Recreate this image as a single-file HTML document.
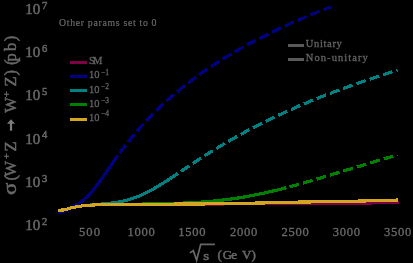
<!DOCTYPE html>
<html><head><meta charset="utf-8">
<style>
html,body{margin:0;padding:0;background:#000;width:413px;height:263px;overflow:hidden}
svg{display:block;will-change:transform}
text{font-family:"Liberation Serif",serif;fill:#686868;stroke:#686868;stroke-width:0.5}
.xl text{fill:#6a6a6a;stroke:#6a6a6a;stroke-width:0.3}
.sm text{fill:#636363;stroke:#636363;stroke-width:0.3}
text.sm2{stroke-width:0.2}
.c{fill:none;stroke-width:3.2;stroke-linejoin:round;stroke-linecap:butt;shape-rendering:crispEdges}
.d{stroke-dasharray:10 4.05;stroke-dashoffset:11.05}
</style></head><body>
<svg width="413" height="263" viewBox="0 0 413 263">
<rect width="413" height="263" fill="#000"/>
<g font-size="15">
<text x="25.3" y="14">10</text><text x="42" y="8.7" font-size="10.5">7</text>
<text x="25.3" y="57.3">10</text><text x="42" y="52" font-size="10.5">6</text>
<text x="25.3" y="100.2">10</text><text x="42" y="95.2" font-size="10.5">5</text>
<text x="25.3" y="143.5">10</text><text x="42" y="138.2" font-size="10.5">4</text>
<text x="25.3" y="187">10</text><text x="42" y="181.7" font-size="10.5">3</text>
<text x="25.3" y="230">10</text><text x="42" y="224.7" font-size="10.5">2</text>
</g>
<g class="xl" font-size="12.6" text-anchor="middle">
<text x="89.5" y="236" textLength="21" lengthAdjust="spacing">500</text>
<text x="141.2" y="236" textLength="27.3" lengthAdjust="spacing">1000</text>
<text x="191.9" y="236" textLength="27.3" lengthAdjust="spacing">1500</text>
<text x="243.6" y="236" textLength="27.3" lengthAdjust="spacing">2000</text>
<text x="295.2" y="236" textLength="27.3" lengthAdjust="spacing">2500</text>
<text x="346.4" y="236" textLength="27.3" lengthAdjust="spacing">3000</text>
<text x="397.6" y="236" textLength="27.3" lengthAdjust="spacing">3500</text>
</g>
<g font-size="13">
<path d="M189.9,252.9 L193.3,250.6 L196.6,260.2 L200.7,244.3 L214.9,244.3" fill="none" stroke="#686868" stroke-width="1.7" stroke-linejoin="miter"/>
<text x="203.3" y="259.6" font-size="13.5" textLength="6" lengthAdjust="spacingAndGlyphs">s</text>
<text y="258.6"><tspan x="217.6">(</tspan><tspan x="222.8">G</tspan><tspan x="231.3">e</tspan><tspan x="242">V</tspan><tspan x="251.6">)</tspan></text>
</g>
<g font-size="16.5" transform="translate(15.8,0) rotate(-90)">
<text x="-194.9" y="0.3" font-size="18.5" textLength="12.4" lengthAdjust="spacingAndGlyphs">σ</text>
<text x="-180.5" y="0">(</text>
<text x="-176.5" y="0">W</text>
<text x="-159" y="-6" font-size="10">+</text>
<text x="-151.5" y="0">Z</text>
<text x="-112.7" y="0">W</text>
<text x="-97" y="-6" font-size="10">+</text>
<text x="-86.5" y="0">Z</text>
<text x="-75.5" y="0">)</text>
<text x="-65" y="0">(</text>
<text x="-61.5" y="0">p</text>
<text x="-51" y="0">b</text>
<text x="-41.3" y="0">)</text>
</g>
<path d="M11,119.2 L15,123.8 L12.1,123.8 L12.1,130.8 L9.9,130.8 L9.9,123.8 L7,123.8 Z" fill="#7c7c7c"/>
<text class="sm2" x="59" y="26.3" font-size="9.8" textLength="97.5" lengthAdjust="spacing">Other params set to 0</text>
<g stroke-width="3">
<line x1="70" y1="62.5" x2="87" y2="62.5" stroke="#800045"/>
<line x1="70" y1="76.5" x2="87" y2="76.5" stroke="#000080"/>
<line x1="70" y1="90.5" x2="87" y2="90.5" stroke="#008080"/>
<line x1="70" y1="104.5" x2="87" y2="104.5" stroke="#008000"/>
<line x1="70" y1="119.5" x2="87" y2="119.5" stroke="#d4a520"/>
<line x1="288" y1="45.5" x2="304" y2="45.5" stroke="#595959"/>
<line x1="288" y1="59.5" x2="304" y2="59.5" stroke="#595959"/>
</g>
<g class="sm" font-size="10.5">
<text x="89" y="63.7" textLength="13.3" lengthAdjust="spacing">SM</text>
<text x="89" y="78">10</text><text x="101" y="74.5" font-size="7.5">−1</text>
<text x="89" y="92.9">10</text><text x="101" y="89.2" font-size="7.5">−2</text>
<text x="89" y="106.8">10</text><text x="101" y="102.8" font-size="7.5">−3</text>
<text x="89" y="121">10</text><text x="101" y="116.3" font-size="7.5">−4</text>
<text x="305.8" y="47.2" textLength="36" lengthAdjust="spacing">Unitary</text>
<text x="305.8" y="61" textLength="62" lengthAdjust="spacing">Non-unitary</text>
</g>
<path d="M58.10,210.20 59.10,210.16 60.11,210.13 61.11,210.09 62.11,210.05 63.11,210.02 64.12,209.86 65.12,209.57 66.12,209.29 67.12,209.01 68.13,208.73 69.13,208.45 70.13,208.17 71.13,207.88 72.14,207.60 73.14,207.39 74.14,207.23 75.15,207.06 76.15,206.90 77.15,206.73 78.15,206.57 79.16,206.40 80.16,206.23 81.16,206.07 82.16,205.90 83.17,205.74 84.17,205.59 85.17,205.53 86.17,205.47 87.18,205.40 88.18,205.34 89.18,205.28 90.18,205.22 91.19,205.16 92.19,205.10 93.19,205.03 94.20,204.97 95.20,204.91 96.20,204.85 97.20,204.79 98.21,204.72 99.21,204.69 100.21,204.66 101.21,204.64 102.22,204.61 103.22,204.59 104.22,204.56 105.22,204.54 106.23,204.51 107.23,204.49 108.23,204.47 109.24,204.44 110.24,204.42 111.24,204.39 112.24,204.37 113.25,204.34 114.25,204.32 115.25,204.30 116.25,204.30 117.26,204.29 118.26,204.29 119.26,204.29 120.26,204.28 121.27,204.28 122.27,204.28 123.27,204.28 124.27,204.27 125.28,204.27 126.28,204.27 127.28,204.26 128.29,204.26 129.29,204.26 130.29,204.26 131.29,204.25 132.30,204.25 133.30,204.25 134.30,204.24 135.30,204.24 136.31,204.24 137.31,204.24 138.31,204.23 139.31,204.23 140.32,204.23 141.32,204.22 142.32,204.22 143.33,204.22 144.33,204.22 145.33,204.21 146.33,204.21 147.34,204.21 148.34,204.20 149.34,204.20 150.34,204.20 151.35,204.19 152.35,204.19 153.35,204.19 154.35,204.18 155.36,204.18 156.36,204.17 157.36,204.17 158.36,204.17 159.37,204.16 160.37,204.16 161.37,204.15 162.38,204.15 163.38,204.15 164.38,204.14 165.38,204.14 166.39,204.13 167.39,204.13 168.39,204.13 169.39,204.12 170.40,204.12 171.40,204.11 172.40,204.11 173.40,204.11 174.41,204.10 175.41,204.10 176.41,204.09 177.42,204.09 178.42,204.09 179.42,204.08 180.42,204.08 181.43,204.07 182.43,204.07 183.43,204.07 184.43,204.06 185.44,204.06 186.44,204.05 187.44,204.05 188.44,204.05 189.45,204.04 190.45,204.04 191.45,204.03 192.45,204.03 193.46,204.03 194.46,204.02 195.46,204.02 196.47,204.01 197.47,204.01 198.47,204.01 199.47,204.00 200.48,204.00 201.48,203.99 202.48,203.99 203.48,203.99 204.49,203.98 205.49,203.98 206.49,203.97 207.49,203.97 208.50,203.97 209.50,203.96 210.50,203.96 211.51,203.95 212.51,203.95 213.51,203.95 214.51,203.94 215.52,203.94 216.52,203.93 217.52,203.93 218.52,203.93 219.53,203.92 220.53,203.92 221.53,203.91 222.53,203.91 223.54,203.91 224.54,203.90 225.54,203.90 226.54,203.89 227.55,203.89 228.55,203.89 229.55,203.88 230.56,203.88 231.56,203.87 232.56,203.87 233.56,203.87 234.57,203.86 235.57,203.86 236.57,203.85 237.57,203.85 238.58,203.85 239.58,203.84 240.58,203.84 241.58,203.83 242.59,203.83 243.59,203.83 244.59,203.82 245.60,203.82 246.60,203.81 247.60,203.81 248.60,203.81 249.61,203.80 250.61,203.80 251.61,203.79 252.61,203.79 253.62,203.79 254.62,203.78 255.62,203.78 256.62,203.77 257.63,203.77 258.63,203.77 259.63,203.76 260.63,203.76 261.64,203.75 262.64,203.75 263.64,203.75 264.65,203.74 265.65,203.74 266.65,203.73 267.65,203.73 268.66,203.73 269.66,203.72 270.66,203.72 271.66,203.71 272.67,203.71 273.67,203.71 274.67,203.70 275.67,203.70 276.68,203.69 277.68,203.69 278.68,203.69 279.69,203.68 280.69,203.68 281.69,203.67 282.69,203.67 283.70,203.67 284.70,203.66 285.70,203.66 286.70,203.65 287.71,203.65 288.71,203.65 289.71,203.64 290.71,203.64 291.72,203.63 292.72,203.63 293.72,203.63 294.72,203.62 295.73,203.62 296.73,203.61 297.73,203.61 298.74,203.61 299.74,203.60 300.74,203.60 301.74,203.59 302.75,203.58 303.75,203.58 304.75,203.57 305.75,203.57 306.76,203.56 307.76,203.55 308.76,203.55 309.76,203.54 310.77,203.54 311.77,203.53 312.77,203.52 313.77,203.52 314.78,203.51 315.78,203.51 316.78,203.50 317.79,203.49 318.79,203.49 319.79,203.48 320.79,203.48 321.80,203.47 322.80,203.46 323.80,203.46 324.80,203.45 325.81,203.45 326.81,203.44 327.81,203.43 328.81,203.43 329.82,203.42 330.82,203.42 331.82,203.41 332.83,203.40 333.83,203.40 334.83,203.39 335.83,203.39 336.84,203.38 337.84,203.37 338.84,203.37 339.84,203.36 340.85,203.35 341.85,203.35 342.85,203.34 343.85,203.34 344.86,203.33 345.86,203.32 346.86,203.32 347.87,203.31 348.87,203.31 349.87,203.30 350.87,203.28 351.88,203.27 352.88,203.25 353.88,203.23 354.88,203.21 355.89,203.19 356.89,203.18 357.89,203.16 358.89,203.14 359.90,203.12 360.90,203.10 361.90,203.09 362.90,203.07 363.91,203.05 364.91,203.03 365.91,203.01 366.92,203.00 367.92,202.98 368.92,202.96 369.92,202.94 370.93,202.92 371.93,202.91 372.93,202.89 373.93,202.87 374.94,202.85 375.94,202.83 376.94,202.82 377.94,202.80 378.95,202.78 379.95,202.76 380.95,202.74 381.95,202.72 382.96,202.71 383.96,202.69 384.96,202.67 385.97,202.65 386.97,202.63 387.97,202.62 388.97,202.60 389.98,202.58 390.98,202.56 391.98,202.54 392.98,202.53 393.99,202.51 394.99,202.49 395.99,202.47 396.99,202.45 398.00,202.44 399.00,202.42" stroke="#800045" class="c"/>
<path d="M58.10,210.20 59.11,210.16 60.11,210.13 61.12,210.09 62.13,210.05 63.13,210.02 64.14,209.85 65.15,209.56 66.15,209.28 67.16,209.00 68.17,208.71 69.17,208.43 70.18,208.14 71.19,207.86 72.19,207.57 73.20,207.37 74.21,207.20 75.21,207.03 76.22,206.86 77.23,206.69 78.23,206.52 79.24,206.35 80.25,206.18 81.25,206.00 82.26,205.83 83.27,205.66 84.27,205.51 85.28,205.43 86.29,205.36 87.29,205.28 88.30,205.21 89.31,205.13 90.32,205.05 91.32,204.97 92.33,204.88 93.34,204.79 94.34,204.70 95.35,204.61 96.36,204.52 97.36,204.42 98.37,204.32 99.38,204.24 100.38,204.17 101.39,204.09 102.40,204.01 103.40,203.93 104.41,203.84 105.42,203.75 106.42,203.65 107.43,203.54 108.44,203.43 109.44,203.31 110.45,203.19 111.46,203.06 112.46,202.92 113.47,202.77 114.48,202.62 115.48,202.47 116.49,202.31 117.50,202.15 118.50,201.98 119.51,201.80 120.52,201.61 121.52,201.41 122.53,201.20 123.54,200.98 124.54,200.75 125.55,200.51 126.56,200.25 127.56,199.98 128.57,199.70 129.58,199.41 130.58,199.10 131.59,198.79 132.60,198.46 133.60,198.12 134.61,197.76 135.62,197.39 136.62,197.01 137.63,196.62 138.64,196.21 139.64,195.80 140.65,195.37 141.66,194.92 142.66,194.47 143.67,194.00 144.68,193.53 145.68,193.04 146.69,192.54 147.70,192.03 148.71,191.51 149.71,190.98 150.72,190.44 151.73,189.88 152.73,189.33 153.74,188.76 154.75,188.18 155.75,187.60 156.76,187.00 157.77,186.40 158.77,185.80 159.78,185.19 160.79,184.57 161.79,183.94 162.80,183.31 163.81,182.68 164.81,182.04 165.82,181.39 166.83,180.75 167.83,180.09 168.84,179.44 169.85,178.78 170.85,178.12 171.86,177.46 172.87,176.79 173.87,176.12 174.88,175.46 175.89,174.79 176.89,174.11 177.90,173.44" stroke="#008080" class="c"/>
<path d="M177.90,173.44 178.40,173.11 178.90,172.77 179.40,172.44 179.90,172.10 180.40,171.77 180.90,171.43 181.40,171.10 181.90,170.76 182.40,170.43 182.90,170.09 183.41,169.76 183.91,169.42 184.41,169.09 184.91,168.75 185.41,168.42 185.91,168.08 186.41,167.75 186.91,167.41 187.41,167.08 187.91,166.75 188.41,166.41 188.91,166.08 189.41,165.75 189.91,165.41 190.41,165.08 190.91,164.75 191.41,164.42 191.91,164.09 192.41,163.75 192.91,163.42 193.41,163.09 193.91,162.76 194.42,162.43 194.92,162.10 195.42,161.77 195.92,161.45 196.42,161.12 196.92,160.79 197.42,160.46 197.92,160.14 198.42,159.81 198.92,159.49 199.42,159.16 199.92,158.84 200.42,158.51 200.92,158.19 201.42,157.86 201.92,157.54 202.42,157.22 202.92,156.90 203.42,156.58 203.92,156.26 204.42,155.94 204.92,155.62 205.43,155.30 205.93,154.98 206.43,154.66 206.93,154.34 207.43,154.03 207.93,153.71 208.43,153.40 208.93,153.08 209.43,152.77 209.93,152.45 210.43,152.14 210.93,151.83 211.43,151.52 211.93,151.20 212.43,150.89 212.93,150.58 213.43,150.27 213.93,149.97 214.43,149.66 214.93,149.35 215.43,149.04 215.93,148.74 216.44,148.43 216.94,148.13 217.44,147.82 217.94,147.52 218.44,147.21 218.94,146.91 219.44,146.61 219.94,146.31 220.44,146.01 220.94,145.71 221.44,145.41 221.94,145.11 222.44,144.81 222.94,144.51 223.44,144.22 223.94,143.92 224.44,143.62 224.94,143.33 225.44,143.03 225.94,142.74 226.44,142.45 226.94,142.16 227.45,141.86 227.95,141.57 228.45,141.28 228.95,140.99 229.45,140.70 229.95,140.41 230.45,140.13 230.95,139.84 231.45,139.55 231.95,139.27 232.45,138.98 232.95,138.70 233.45,138.41 233.95,138.13 234.45,137.84 234.95,137.56 235.45,137.28 235.95,137.00 236.45,136.72 236.95,136.44 237.45,136.16 237.95,135.88 238.46,135.60 238.96,135.33 239.46,135.05 239.96,134.77 240.46,134.50 240.96,134.22 241.46,133.95 241.96,133.67 242.46,133.40 242.96,133.13 243.46,132.86 243.96,132.58 244.46,132.31 244.96,132.04 245.46,131.77 245.96,131.51 246.46,131.24 246.96,130.97 247.46,130.70 247.96,130.44 248.46,130.17 248.96,129.90 249.47,129.64 249.97,129.37 250.47,129.11 250.97,128.85 251.47,128.59 251.97,128.32 252.47,128.06 252.97,127.80 253.47,127.54 253.97,127.28 254.47,127.02 254.97,126.76 255.47,126.51 255.97,126.25 256.47,125.99 256.97,125.73 257.47,125.48 257.97,125.22 258.47,124.97 258.97,124.71 259.47,124.46 259.97,124.21 260.48,123.96 260.98,123.70 261.48,123.45 261.98,123.20 262.48,122.95 262.98,122.70 263.48,122.45 263.98,122.20 264.48,121.96 264.98,121.71 265.48,121.46 265.98,121.21 266.48,120.97 266.98,120.72 267.48,120.48 267.98,120.23 268.48,119.99 268.98,119.75 269.48,119.50 269.98,119.26 270.48,119.02 270.98,118.78 271.49,118.54 271.99,118.30 272.49,118.06 272.99,117.82 273.49,117.58 273.99,117.34 274.49,117.10 274.99,116.86 275.49,116.63 275.99,116.39 276.49,116.16 276.99,115.92 277.49,115.68 277.99,115.45 278.49,115.22 278.99,114.98 279.49,114.75 279.99,114.52 280.49,114.29 280.99,114.05 281.49,113.82 281.99,113.59 282.50,113.36 283.00,113.13 283.50,112.90 284.00,112.67 284.50,112.45 285.00,112.22 285.50,111.99 286.00,111.76 286.50,111.54 287.00,111.31 287.50,111.09 288.00,110.86 288.50,110.64 289.00,110.41 289.50,110.19 290.00,109.96 290.50,109.74 291.00,109.52 291.50,109.30 292.00,109.08 292.50,108.85 293.00,108.63 293.51,108.41 294.01,108.19 294.51,107.97 295.01,107.76 295.51,107.54 296.01,107.32 296.51,107.10 297.01,106.88 297.51,106.67 298.01,106.45 298.51,106.24 299.01,106.02 299.51,105.80 300.01,105.59 300.51,105.38 301.01,105.16 301.51,104.95 302.01,104.74 302.51,104.52 303.01,104.31 303.51,104.10 304.01,103.89 304.52,103.68 305.02,103.47 305.52,103.26 306.02,103.05 306.52,102.84 307.02,102.63 307.52,102.42 308.02,102.21 308.52,102.00 309.02,101.79 309.52,101.59 310.02,101.38 310.52,101.17 311.02,100.97 311.52,100.76 312.02,100.56 312.52,100.35 313.02,100.15 313.52,99.95 314.02,99.74 314.52,99.54 315.02,99.34 315.53,99.13 316.03,98.93 316.53,98.73 317.03,98.53 317.53,98.33 318.03,98.13 318.53,97.93 319.03,97.73 319.53,97.53 320.03,97.33 320.53,97.13 321.03,96.93 321.53,96.73 322.03,96.53 322.53,96.34 323.03,96.14 323.53,95.94 324.03,95.75 324.53,95.55 325.03,95.36 325.53,95.16 326.03,94.96 326.54,94.77 327.04,94.58 327.54,94.38 328.04,94.19 328.54,94.00 329.04,93.80 329.54,93.61 330.04,93.42 330.54,93.23 331.04,93.03 331.54,92.84 332.04,92.65 332.54,92.46 333.04,92.27 333.54,92.08 334.04,91.89 334.54,91.70 335.04,91.51 335.54,91.33 336.04,91.14 336.54,90.95 337.04,90.76 337.55,90.58 338.05,90.39 338.55,90.20 339.05,90.02 339.55,89.83 340.05,89.64 340.55,89.46 341.05,89.27 341.55,89.09 342.05,88.90 342.55,88.72 343.05,88.54 343.55,88.35 344.05,88.17 344.55,87.99 345.05,87.81 345.55,87.62 346.05,87.44 346.55,87.26 347.05,87.08 347.55,86.90 348.05,86.72 348.56,86.54 349.06,86.36 349.56,86.18 350.06,86.00 350.56,85.82 351.06,85.64 351.56,85.46 352.06,85.28 352.56,85.10 353.06,84.93 353.56,84.75 354.06,84.57 354.56,84.39 355.06,84.22 355.56,84.04 356.06,83.87 356.56,83.69 357.06,83.51 357.56,83.34 358.06,83.16 358.56,82.99 359.06,82.82 359.57,82.64 360.07,82.47 360.57,82.29 361.07,82.12 361.57,81.95 362.07,81.78 362.57,81.60 363.07,81.43 363.57,81.26 364.07,81.09 364.57,80.92 365.07,80.75 365.57,80.58 366.07,80.41 366.57,80.24 367.07,80.07 367.57,79.90 368.07,79.73 368.57,79.56 369.07,79.39 369.57,79.22 370.07,79.05 370.58,78.88 371.08,78.72 371.58,78.55 372.08,78.38 372.58,78.21 373.08,78.05 373.58,77.88 374.08,77.71 374.58,77.55 375.08,77.38 375.58,77.22 376.08,77.05 376.58,76.89 377.08,76.72 377.58,76.56 378.08,76.39 378.58,76.23 379.08,76.07 379.58,75.90 380.08,75.74 380.58,75.58 381.08,75.41 381.59,75.25 382.09,75.09 382.59,74.93 383.09,74.77 383.59,74.60 384.09,74.44 384.59,74.28 385.09,74.12 385.59,73.96 386.09,73.80 386.59,73.64 387.09,73.48 387.59,73.32 388.09,73.16 388.59,73.00 389.09,72.84 389.59,72.69 390.09,72.53 390.59,72.37 391.09,72.21 391.59,72.05 392.09,71.90 392.60,71.74 393.10,71.58 393.60,71.43 394.10,71.27 394.60,71.11 395.10,70.96 395.60,70.80 396.10,70.65 396.60,70.49 397.10,70.33 397.60,70.18" stroke="#008080" class="c d" style="stroke-dashoffset:10.4"/>
<path d="M58.10,210.20 59.10,210.16 60.10,210.13 61.11,210.09 62.11,210.05 63.11,210.02 64.11,209.86 65.11,209.58 66.11,209.29 67.12,209.01 68.12,208.73 69.12,208.45 70.12,208.17 71.12,207.89 72.12,207.61 73.13,207.40 74.13,207.23 75.13,207.07 76.13,206.90 77.13,206.73 78.14,206.57 79.14,206.40 80.14,206.24 81.14,206.07 82.14,205.91 83.14,205.74 84.15,205.59 85.15,205.53 86.15,205.47 87.15,205.40 88.15,205.34 89.15,205.28 90.16,205.22 91.16,205.16 92.16,205.09 93.16,205.03 94.16,204.97 95.16,204.91 96.17,204.85 97.17,204.78 98.17,204.72 99.17,204.68 100.17,204.66 101.18,204.63 102.18,204.61 103.18,204.58 104.18,204.56 105.18,204.53 106.18,204.51 107.19,204.48 108.19,204.46 109.19,204.43 110.19,204.40 111.19,204.38 112.19,204.35 113.20,204.33 114.20,204.30 115.20,204.28 116.20,204.28 117.20,204.27 118.21,204.27 119.21,204.26 120.21,204.26 121.21,204.25 122.21,204.25 123.21,204.24 124.22,204.24 125.22,204.23 126.22,204.22 127.22,204.22 128.22,204.21 129.22,204.21 130.23,204.20 131.23,204.19 132.23,204.18 133.23,204.18 134.23,204.17 135.24,204.16 136.24,204.15 137.24,204.15 138.24,204.14 139.24,204.13 140.24,204.12 141.25,204.11 142.25,204.10 143.25,204.09 144.25,204.08 145.25,204.07 146.25,204.05 147.26,204.04 148.26,204.03 149.26,204.02 150.26,204.00 151.26,203.99 152.26,203.97 153.27,203.95 154.27,203.94 155.27,203.92 156.27,203.90 157.27,203.88 158.28,203.87 159.28,203.85 160.28,203.82 161.28,203.80 162.28,203.78 163.28,203.76 164.29,203.74 165.29,203.71 166.29,203.69 167.29,203.66 168.29,203.63 169.29,203.61 170.30,203.58 171.30,203.55 172.30,203.52 173.30,203.49 174.30,203.45 175.31,203.42 176.31,203.39 177.31,203.35 178.31,203.31 179.31,203.28 180.31,203.24 181.32,203.20 182.32,203.16 183.32,203.11 184.32,203.07 185.32,203.02 186.32,202.98 187.33,202.93 188.33,202.88 189.33,202.83 190.33,202.78 191.33,202.72 192.34,202.67 193.34,202.61 194.34,202.55 195.34,202.49 196.34,202.43 197.34,202.36 198.35,202.30 199.35,202.23 200.35,202.16 201.35,202.09 202.35,202.02 203.35,201.94 204.36,201.87 205.36,201.79 206.36,201.71 207.36,201.62 208.36,201.54 209.36,201.45 210.37,201.36 211.37,201.27 212.37,201.18 213.37,201.08 214.37,200.99 215.38,200.89 216.38,200.79 217.38,200.68 218.38,200.57 219.38,200.47 220.38,200.35 221.39,200.24 222.39,200.13 223.39,200.01 224.39,199.89 225.39,199.76 226.39,199.64 227.40,199.51 228.40,199.38 229.40,199.24 230.40,199.11 231.40,198.97 232.41,198.83 233.41,198.69 234.41,198.54 235.41,198.39 236.41,198.24 237.41,198.09 238.42,197.93 239.42,197.77 240.42,197.61 241.42,197.45 242.42,197.28 243.42,197.11 244.43,196.94 245.43,196.77 246.43,196.59 247.43,196.41 248.43,196.23 249.44,196.04 250.44,195.86 251.44,195.67 252.44,195.48 253.44,195.28 254.44,195.08 255.45,194.89 256.45,194.68 257.45,194.48 258.45,194.27 259.45,194.06 260.45,193.85 261.46,193.64 262.46,193.42 263.46,193.20 264.46,192.98 265.46,192.76 266.46,192.53 267.47,192.31 268.47,192.08 269.47,191.85 270.47,191.61 271.47,191.38 272.48,191.14 273.48,190.90 274.48,190.66 275.48,190.41 276.48,190.17 277.48,189.92 278.49,189.67 279.49,189.42 280.49,189.17 281.49,188.91 282.49,188.65 283.49,188.40 284.50,188.14 285.50,187.87 286.50,187.61" stroke="#008000" class="c"/>
<path d="M286.50,187.61 287.00,187.48 287.50,187.35 288.00,187.21 288.50,187.08 289.00,186.95 289.50,186.81 290.00,186.68 290.50,186.54 291.00,186.41 291.50,186.27 292.00,186.14 292.51,186.00 293.01,185.86 293.51,185.73 294.01,185.59 294.51,185.45 295.01,185.31 295.51,185.18 296.01,185.04 296.51,184.90 297.01,184.76 297.51,184.62 298.01,184.48 298.51,184.34 299.01,184.20 299.51,184.06 300.01,183.92 300.51,183.78 301.01,183.64 301.51,183.50 302.01,183.35 302.51,183.21 303.01,183.07 303.52,182.93 304.02,182.78 304.52,182.64 305.02,182.50 305.52,182.35 306.02,182.21 306.52,182.06 307.02,181.92 307.52,181.77 308.02,181.63 308.52,181.48 309.02,181.34 309.52,181.19 310.02,181.05 310.52,180.90 311.02,180.76 311.52,180.61 312.02,180.46 312.52,180.32 313.02,180.17 313.52,180.02 314.02,179.88 314.53,179.73 315.03,179.58 315.53,179.43 316.03,179.28 316.53,179.14 317.03,178.99 317.53,178.84 318.03,178.69 318.53,178.54 319.03,178.40 319.53,178.25 320.03,178.10 320.53,177.95 321.03,177.80 321.53,177.65 322.03,177.50 322.53,177.35 323.03,177.20 323.53,177.05 324.03,176.90 324.53,176.75 325.03,176.60 325.54,176.45 326.04,176.30 326.54,176.15 327.04,176.00 327.54,175.85 328.04,175.70 328.54,175.55 329.04,175.40 329.54,175.25 330.04,175.10 330.54,174.95 331.04,174.80 331.54,174.65 332.04,174.50 332.54,174.35 333.04,174.19 333.54,174.04 334.04,173.89 334.54,173.74 335.04,173.59 335.54,173.44 336.04,173.29 336.55,173.14 337.05,172.98 337.55,172.83 338.05,172.68 338.55,172.53 339.05,172.38 339.55,172.23 340.05,172.08 340.55,171.92 341.05,171.77 341.55,171.62 342.05,171.47 342.55,171.32 343.05,171.17 343.55,171.02 344.05,170.86 344.55,170.71 345.05,170.56 345.55,170.41 346.05,170.26 346.55,170.11 347.05,169.96 347.55,169.80 348.06,169.65 348.56,169.50 349.06,169.35 349.56,169.20 350.06,169.05 350.56,168.90 351.06,168.74 351.56,168.59 352.06,168.44 352.56,168.29 353.06,168.14 353.56,167.98 354.06,167.83 354.56,167.68 355.06,167.53 355.56,167.38 356.06,167.22 356.56,167.07 357.06,166.92 357.56,166.77 358.06,166.62 358.56,166.47 359.07,166.32 359.57,166.16 360.07,166.01 360.57,165.86 361.07,165.71 361.57,165.56 362.07,165.41 362.57,165.26 363.07,165.11 363.57,164.96 364.07,164.81 364.57,164.66 365.07,164.51 365.57,164.36 366.07,164.21 366.57,164.06 367.07,163.91 367.57,163.76 368.07,163.61 368.57,163.46 369.07,163.31 369.57,163.16 370.08,163.01 370.58,162.86 371.08,162.71 371.58,162.56 372.08,162.41 372.58,162.26 373.08,162.11 373.58,161.96 374.08,161.82 374.58,161.67 375.08,161.52 375.58,161.37 376.08,161.22 376.58,161.07 377.08,160.92 377.58,160.78 378.08,160.63 378.58,160.48 379.08,160.33 379.58,160.19 380.08,160.04 380.58,159.89 381.09,159.74 381.59,159.60 382.09,159.45 382.59,159.30 383.09,159.16 383.59,159.01 384.09,158.86 384.59,158.72 385.09,158.57 385.59,158.42 386.09,158.28 386.59,158.13 387.09,157.98 387.59,157.84 388.09,157.69 388.59,157.55 389.09,157.40 389.59,157.26 390.09,157.11 390.59,156.97 391.09,156.82 391.59,156.68 392.10,156.53 392.60,156.39 393.10,156.24 393.60,156.10 394.10,155.95 394.60,155.81 395.10,155.67 395.60,155.52 396.10,155.38 396.60,155.23 397.10,155.09 397.60,154.95" stroke="#008000" class="c d"/>
<path d="M58.10,212.35 59.11,212.17 60.12,211.99 61.14,211.81 62.15,211.61 63.16,211.41 64.17,211.06 65.18,210.60 66.19,210.12 67.21,209.63 68.22,209.12 69.23,208.59 70.24,208.04 71.25,207.48 72.27,206.88 73.28,206.35 74.29,205.80 75.30,205.23 76.31,204.65 77.33,204.12 78.34,203.55 79.35,202.93 80.36,202.26 81.37,201.55 82.38,200.79 83.40,199.98 84.41,199.14 85.42,198.30 86.43,197.40 87.44,196.45 88.46,195.44 89.47,194.38 90.48,193.28 91.49,192.12 92.50,190.92 93.52,189.69 94.53,188.41 95.54,187.10 96.55,185.76 97.56,184.40 98.57,183.01 99.59,181.62 100.60,180.20 101.61,178.78 102.62,177.34 103.63,175.89 104.65,174.43 105.66,172.97 106.67,171.51 107.68,170.04 108.69,168.58 109.71,167.12 110.72,165.66 111.73,164.21 112.74,162.77 113.75,161.33 114.76,159.90 115.78,158.48 116.79,157.07 117.80,155.67" stroke="#000080" class="c"/>
<path d="M117.80,155.67 118.30,154.99 118.80,154.30 119.30,153.62 119.80,152.93 120.30,152.26 120.80,151.58 121.30,150.91 121.80,150.24 122.30,149.57 122.80,148.91 123.31,148.24 123.81,147.58 124.31,146.93 124.81,146.28 125.31,145.62 125.81,144.98 126.31,144.33 126.81,143.69 127.31,143.05 127.81,142.42 128.31,141.78 128.81,141.15 129.31,140.52 129.81,139.90 130.31,139.28 130.81,138.66 131.31,138.04 131.81,137.43 132.31,136.82 132.81,136.21 133.31,135.61 133.82,135.00 134.32,134.40 134.82,133.81 135.32,133.21 135.82,132.62 136.32,132.04 136.82,131.45 137.32,130.87 137.82,130.29 138.32,129.71 138.82,129.13 139.32,128.56 139.82,127.99 140.32,127.43 140.82,126.86 141.32,126.30 141.82,125.74 142.32,125.18 142.82,124.63 143.32,124.08 143.82,123.53 144.33,122.98 144.83,122.44 145.33,121.90 145.83,121.36 146.33,120.82 146.83,120.29 147.33,119.75 147.83,119.22 148.33,118.70 148.83,118.17 149.33,117.65 149.83,117.13 150.33,116.61 150.83,116.10 151.33,115.58 151.83,115.07 152.33,114.56 152.83,114.05 153.33,113.55 153.83,113.05 154.33,112.55 154.84,112.05 155.34,111.55 155.84,111.06 156.34,110.57 156.84,110.08 157.34,109.59 157.84,109.10 158.34,108.62 158.84,108.14 159.34,107.66 159.84,107.18 160.34,106.70 160.84,106.23 161.34,105.76 161.84,105.29 162.34,104.82 162.84,104.36 163.34,103.89 163.84,103.43 164.34,102.97 164.84,102.51 165.35,102.05 165.85,101.60 166.35,101.14 166.85,100.69 167.35,100.24 167.85,99.80 168.35,99.35 168.85,98.91 169.35,98.46 169.85,98.02 170.35,97.58 170.85,97.15 171.35,96.71 171.85,96.28 172.35,95.84 172.85,95.41 173.35,94.98 173.85,94.56 174.35,94.13 174.85,93.71 175.35,93.28 175.86,92.86 176.36,92.44 176.86,92.02 177.36,91.61 177.86,91.19 178.36,90.78 178.86,90.37 179.36,89.96 179.86,89.55 180.36,89.14 180.86,88.74 181.36,88.33 181.86,87.93 182.36,87.53 182.86,87.13 183.36,86.73 183.86,86.33 184.36,85.93 184.86,85.54 185.36,85.15 185.86,84.75 186.37,84.36 186.87,83.98 187.37,83.59 187.87,83.20 188.37,82.82 188.87,82.43 189.37,82.05 189.87,81.67 190.37,81.29 190.87,80.91 191.37,80.53 191.87,80.16 192.37,79.78 192.87,79.41 193.37,79.04 193.87,78.67 194.37,78.30 194.87,77.93 195.37,77.56 195.87,77.20 196.37,76.83 196.88,76.47 197.38,76.10 197.88,75.74 198.38,75.38 198.88,75.02 199.38,74.67 199.88,74.31 200.38,73.95 200.88,73.60 201.38,73.25 201.88,72.89 202.38,72.54 202.88,72.19 203.38,71.84 203.88,71.50 204.38,71.15 204.88,70.80 205.38,70.46 205.88,70.12 206.38,69.77 206.88,69.43 207.39,69.09 207.89,68.75 208.39,68.42 208.89,68.08 209.39,67.74 209.89,67.41 210.39,67.07 210.89,66.74 211.39,66.41 211.89,66.08 212.39,65.75 212.89,65.42 213.39,65.09 213.89,64.76 214.39,64.44 214.89,64.11 215.39,63.79 215.89,63.46 216.39,63.14 216.89,62.82 217.39,62.50 217.90,62.18 218.40,61.86 218.90,61.54 219.40,61.23 219.90,60.91 220.40,60.60 220.90,60.28 221.40,59.97 221.90,59.66 222.40,59.35 222.90,59.03 223.40,58.72 223.90,58.42 224.40,58.11 224.90,57.80 225.40,57.49 225.90,57.19 226.40,56.88 226.90,56.58 227.40,56.28 227.90,55.98 228.41,55.68 228.91,55.37 229.41,55.08 229.91,54.78 230.41,54.48 230.91,54.18 231.41,53.89 231.91,53.59 232.41,53.29 232.91,53.00 233.41,52.71 233.91,52.42 234.41,52.12 234.91,51.83 235.41,51.54 235.91,51.25 236.41,50.96 236.91,50.68 237.41,50.39 237.91,50.10 238.41,49.82 238.92,49.53 239.42,49.25 239.92,48.97 240.42,48.68 240.92,48.40 241.42,48.12 241.92,47.84 242.42,47.56 242.92,47.28 243.42,47.00 243.92,46.73 244.42,46.45 244.92,46.17 245.42,45.90 245.92,45.62 246.42,45.35 246.92,45.07 247.42,44.80 247.92,44.53 248.42,44.26 248.92,43.99 249.43,43.72 249.93,43.45 250.43,43.18 250.93,42.91 251.43,42.64 251.93,42.38 252.43,42.11 252.93,41.85 253.43,41.58 253.93,41.32 254.43,41.05 254.93,40.79 255.43,40.53 255.93,40.27 256.43,40.01 256.93,39.75 257.43,39.49 257.93,39.23 258.43,38.97 258.93,38.71 259.43,38.45 259.94,38.20 260.44,37.94 260.94,37.68 261.44,37.43 261.94,37.18 262.44,36.92 262.94,36.67 263.44,36.42 263.94,36.16 264.44,35.91 264.94,35.66 265.44,35.41 265.94,35.16 266.44,34.91 266.94,34.66 267.44,34.42 267.94,34.17 268.44,33.92 268.94,33.68 269.44,33.43 269.94,33.19 270.45,32.94 270.95,32.70 271.45,32.45 271.95,32.21 272.45,31.97 272.95,31.73 273.45,31.48 273.95,31.24 274.45,31.00 274.95,30.76 275.45,30.52 275.95,30.29 276.45,30.05 276.95,29.81 277.45,29.57 277.95,29.34 278.45,29.10 278.95,28.86 279.45,28.63 279.95,28.40 280.45,28.16 280.96,27.93 281.46,27.69 281.96,27.46 282.46,27.23 282.96,27.00 283.46,26.77 283.96,26.54 284.46,26.31 284.96,26.08 285.46,25.85 285.96,25.62 286.46,25.39 286.96,25.16 287.46,24.94 287.96,24.71 288.46,24.48 288.96,24.26 289.46,24.03 289.96,23.81 290.46,23.58 290.96,23.36 291.47,23.14 291.97,22.91 292.47,22.69 292.97,22.47 293.47,22.25 293.97,22.03 294.47,21.80 294.97,21.58 295.47,21.36 295.97,21.14 296.47,20.93 296.97,20.71 297.47,20.49 297.97,20.27 298.47,20.05 298.97,19.84 299.47,19.62 299.97,19.41 300.47,19.19 300.97,18.98 301.48,18.76 301.98,18.55 302.48,18.33 302.98,18.12 303.48,17.91 303.98,17.69 304.48,17.48 304.98,17.27 305.48,17.06 305.98,16.85 306.48,16.64 306.98,16.43 307.48,16.22 307.98,16.01 308.48,15.80 308.98,15.59 309.48,15.38 309.98,15.18 310.48,14.97 310.98,14.76 311.48,14.56 311.99,14.35 312.49,14.14 312.99,13.94 313.49,13.73 313.99,13.53 314.49,13.33 314.99,13.12 315.49,12.92 315.99,12.72 316.49,12.51 316.99,12.31 317.49,12.11 317.99,11.91 318.49,11.71 318.99,11.51 319.49,11.31 319.99,11.11 320.49,10.91 320.99,10.71 321.49,10.51 321.99,10.31 322.50,10.11 323.00,9.91 323.50,9.72 324.00,9.52 324.50,9.32 325.00,9.13 325.50,8.93 326.00,8.74 326.50,8.54 327.00,8.35 327.50,8.15 328.00,7.96 328.50,7.76 329.00,7.57 329.50,7.38 330.00,7.18 330.50,6.99 331.00,6.80" stroke="#000080" class="c d"/>
<path d="M58.10,210.20 59.10,210.16 60.10,210.13 61.10,210.09 62.11,210.05 63.11,210.02 64.11,209.86 65.11,209.58 66.11,209.29 67.11,209.01 68.11,208.73 69.12,208.45 70.12,208.17 71.12,207.89 72.12,207.61 73.12,207.40 74.12,207.23 75.13,207.07 76.13,206.90 77.13,206.74 78.13,206.57 79.13,206.40 80.13,206.24 81.13,206.07 82.14,205.91 83.14,205.74 84.14,205.59 85.14,205.53 86.14,205.47 87.14,205.41 88.14,205.34 89.15,205.28 90.15,205.22 91.15,205.16 92.15,205.10 93.15,205.04 94.15,204.97 95.15,204.91 96.16,204.85 97.16,204.79 98.16,204.73 99.16,204.69 100.16,204.66 101.16,204.64 102.16,204.61 103.17,204.59 104.17,204.56 105.17,204.54 106.17,204.52 107.17,204.49 108.17,204.47 109.18,204.44 110.18,204.42 111.18,204.39 112.18,204.37 113.18,204.34 114.18,204.32 115.18,204.30 116.19,204.30 117.19,204.29 118.19,204.29 119.19,204.29 120.19,204.28 121.19,204.28 122.19,204.28 123.20,204.28 124.20,204.27 125.20,204.27 126.20,204.27 127.20,204.26 128.20,204.26 129.20,204.26 130.21,204.26 131.21,204.25 132.21,204.25 133.21,204.25 134.21,204.24 135.21,204.24 136.22,204.24 137.22,204.24 138.22,204.23 139.22,204.23 140.22,204.23 141.22,204.22 142.22,204.22 143.23,204.22 144.23,204.22 145.23,204.21 146.23,204.21 147.23,204.21 148.23,204.20 149.23,204.20 150.24,204.20 151.24,204.19 152.24,204.19 153.24,204.18 154.24,204.18 155.24,204.18 156.24,204.17 157.25,204.17 158.25,204.16 159.25,204.16 160.25,204.16 161.25,204.15 162.25,204.15 163.25,204.14 164.26,204.14 165.26,204.13 166.26,204.13 167.26,204.13 168.26,204.12 169.26,204.12 170.27,204.11 171.27,204.11 172.27,204.10 173.27,204.10 174.27,204.10 175.27,204.09 176.27,204.09 177.28,204.08 178.28,204.08 179.28,204.07 180.28,204.07 181.28,204.07 182.28,204.06 183.28,204.06 184.29,204.05 185.29,204.05 186.29,204.04 187.29,204.04 188.29,204.03 189.29,204.03 190.29,204.03 191.30,204.02 192.30,204.02 193.30,204.01 194.30,204.01 195.30,204.00 196.30,204.00 197.31,203.99 198.31,203.99 199.31,203.98 200.31,203.98 201.31,203.96 202.31,203.95 203.31,203.93 204.32,203.92 205.32,203.90 206.32,203.89 207.32,203.87 208.32,203.86 209.32,203.84 210.32,203.83 211.33,203.81 212.33,203.80 213.33,203.78 214.33,203.77 215.33,203.75 216.33,203.74 217.33,203.72 218.34,203.71 219.34,203.69 220.34,203.68 221.34,203.66 222.34,203.65 223.34,203.63 224.34,203.61 225.35,203.60 226.35,203.58 227.35,203.57 228.35,203.55 229.35,203.54 230.35,203.52 231.36,203.51 232.36,203.49 233.36,203.47 234.36,203.46 235.36,203.44 236.36,203.43 237.36,203.41 238.37,203.39 239.37,203.38 240.37,203.36 241.37,203.34 242.37,203.33 243.37,203.31 244.37,203.30 245.38,203.28 246.38,203.26 247.38,203.25 248.38,203.23 249.38,203.21 250.38,203.20 251.38,203.18 252.39,203.16 253.39,203.15 254.39,203.13 255.39,203.11 256.39,203.09 257.39,203.08 258.39,203.06 259.40,203.04 260.40,203.02 261.40,203.00 262.40,202.98 263.40,202.95 264.40,202.93 265.41,202.91 266.41,202.89 267.41,202.86 268.41,202.84 269.41,202.82 270.41,202.79 271.41,202.77 272.42,202.75 273.42,202.72 274.42,202.70 275.42,202.67 276.42,202.65 277.42,202.63 278.42,202.60 279.43,202.58 280.43,202.55 281.43,202.53 282.43,202.51 283.43,202.48 284.43,202.46 285.43,202.43 286.44,202.41 287.44,202.38 288.44,202.36 289.44,202.33 290.44,202.30 291.44,202.28 292.45,202.25 293.45,202.23 294.45,202.20 295.45,202.18 296.45,202.15 297.45,202.12 298.45,202.10 299.46,202.07 300.46,202.05 301.46,202.04 302.46,202.03 303.46,202.01 304.46,202.00 305.46,201.99 306.47,201.98 307.47,201.96 308.47,201.95 309.47,201.94 310.47,201.92 311.47,201.91 312.47,201.90 313.48,201.88 314.48,201.87 315.48,201.86 316.48,201.84 317.48,201.83 318.48,201.81 319.48,201.80 320.49,201.78 321.49,201.77 322.49,201.75 323.49,201.74 324.49,201.72 325.49,201.70 326.50,201.69 327.50,201.67 328.50,201.66 329.50,201.64 330.50,201.62 331.50,201.60 332.50,201.59 333.51,201.57 334.51,201.55 335.51,201.53 336.51,201.52 337.51,201.50 338.51,201.48 339.51,201.46 340.52,201.44 341.52,201.42 342.52,201.40 343.52,201.38 344.52,201.36 345.52,201.34 346.52,201.32 347.53,201.30 348.53,201.28 349.53,201.26 350.53,201.24 351.53,201.22 352.53,201.20 353.54,201.18 354.54,201.16 355.54,201.14 356.54,201.12 357.54,201.10 358.54,201.08 359.54,201.06 360.55,201.03 361.55,201.01 362.55,200.99 363.55,200.97 364.55,200.95 365.55,200.92 366.55,200.90 367.56,200.88 368.56,200.85 369.56,200.83 370.56,200.81 371.56,200.78 372.56,200.76 373.56,200.73 374.57,200.71 375.57,200.68 376.57,200.66 377.57,200.63 378.57,200.60 379.57,200.58 380.57,200.55 381.58,200.52 382.58,200.50 383.58,200.47 384.58,200.44 385.58,200.41 386.58,200.38 387.59,200.35 388.59,200.32 389.59,200.30 390.59,200.27 391.59,200.23 392.59,200.20 393.59,200.17 394.60,200.14 395.60,200.11 396.60,200.08 397.60,200.05" stroke="#d4a520" class="c"/>
</svg>
</body></html>
